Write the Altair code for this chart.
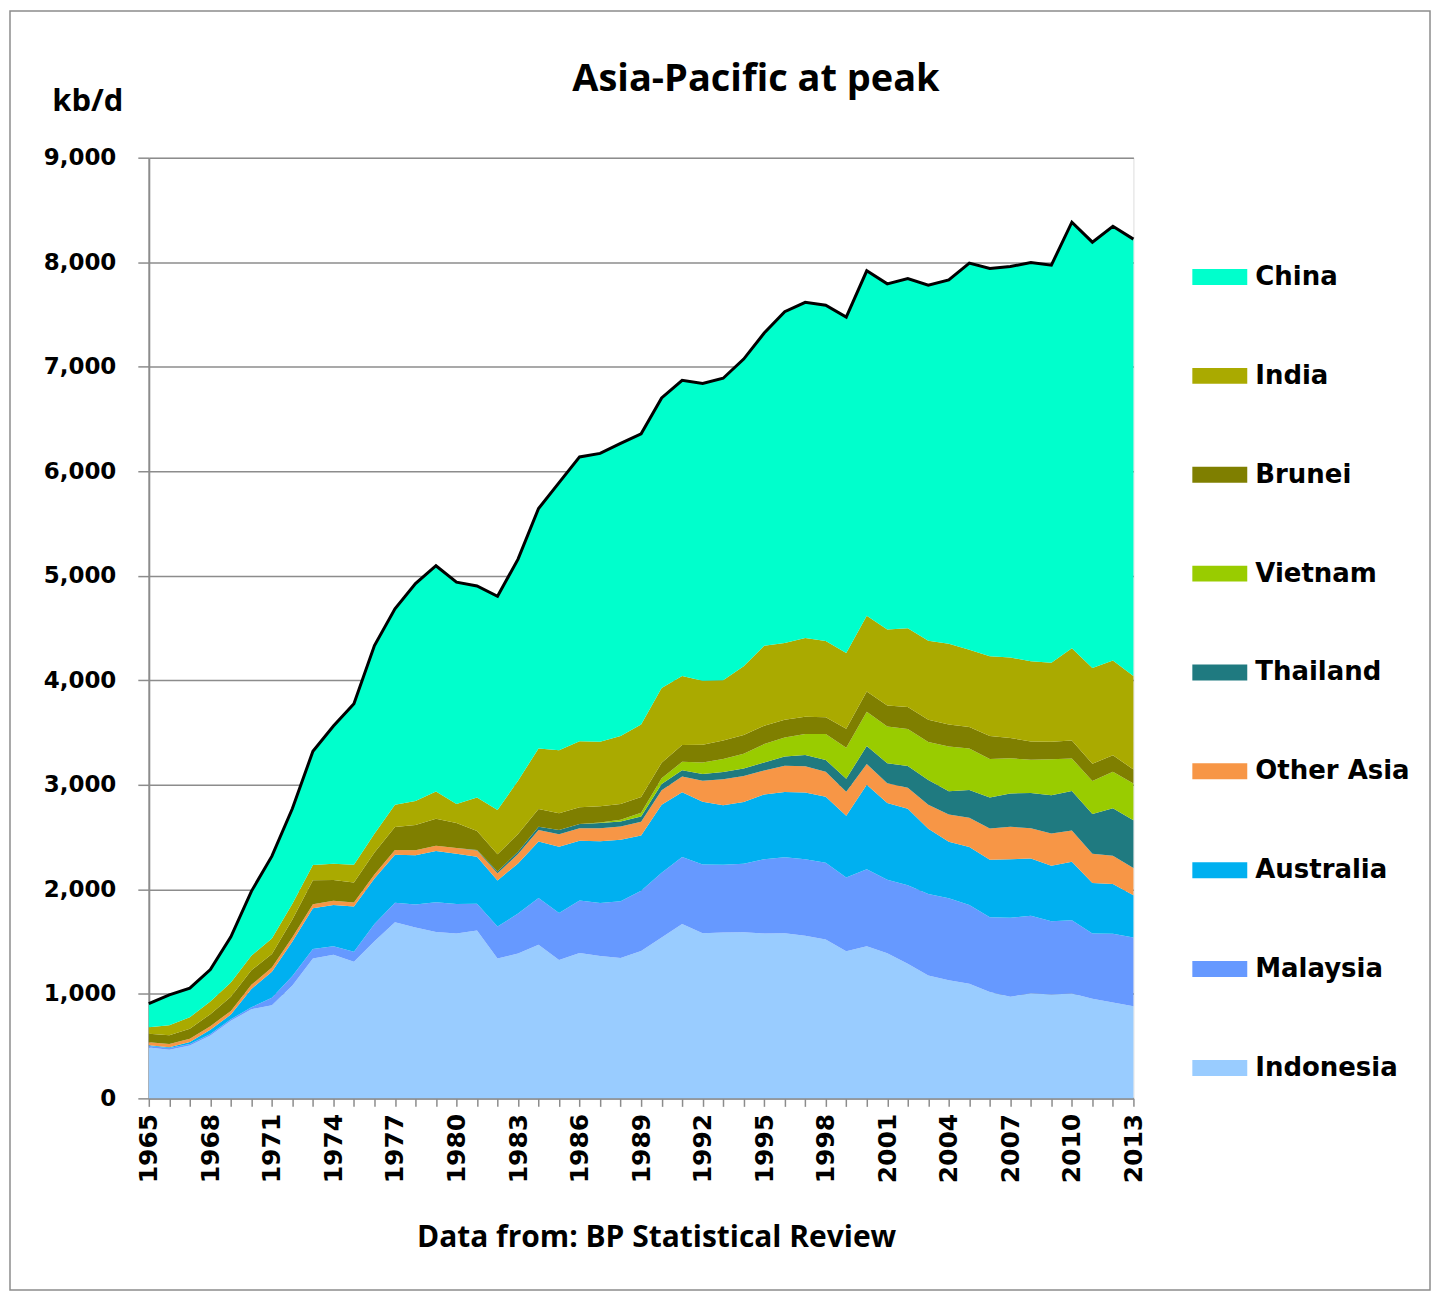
import altair as alt
import pandas as pd

years = list(range(1965, 2014))
label_years = list(range(1965, 2014, 3))

indonesia = [486, 466, 505, 601, 742, 853, 892, 1081, 1338, 1375,
             1306, 1503, 1686, 1635, 1591, 1577, 1605, 1339, 1385, 1470,
             1325, 1390, 1363, 1342, 1409, 1539, 1669, 1579, 1588, 1589,
             1578, 1580, 1557, 1520, 1408, 1456, 1389, 1289, 1176, 1130,
             1096, 1018, 972, 1006, 994, 1003, 952, 918, 882]
malaysia = [15, 15, 15, 15, 15, 18, 70, 90, 90, 80,
            98, 165, 185, 220, 285, 283, 257, 305, 383, 448,
            448, 504, 507, 543, 577, 619, 641, 659, 646, 656,
            711, 727, 730, 735, 705, 735, 703, 751, 779, 784,
            755, 714, 755, 741, 701, 701, 625, 657, 657]
australia = [7, 9, 20, 40, 45, 175, 250, 330, 390, 395,
             431, 435, 460, 470, 490, 480, 450, 440, 480, 540,
             635, 570, 590, 590, 530, 651, 620, 600, 570, 590,
             619, 625, 640, 630, 590, 809, 733, 731, 624, 541,
             554, 550, 561, 547, 530, 560, 484, 476, 404]
other_asia = [30, 30, 30, 35, 35, 40, 40, 40, 40, 40,
              40, 40, 45, 50, 50, 55, 60, 70, 90, 110,
              120, 120, 125, 125, 130, 140, 150, 200, 250, 250,
              230, 250, 250, 240, 230, 200, 190, 200, 230, 260,
              280, 300, 310, 290, 310, 300, 280, 270, 260]
thailand = [0, 0, 0, 0, 0, 0, 0, 0, 0, 0,
            0, 0, 0, 0, 0, 0, 5, 17, 22, 30,
            40, 40, 49, 50, 52, 58, 60, 66, 68, 71,
            76, 90, 109, 113, 125, 171, 192, 210, 236, 224,
            265, 297, 319, 338, 365, 376, 379, 455, 459]
vietnam = [0, 0, 0, 0, 0, 0, 0, 0, 0, 0,
           0, 0, 0, 0, 0, 0, 0, 0, 0, 0,
           0, 1, 5, 16, 35, 55, 80, 110, 126, 140,
           176, 180, 200, 249, 296, 328, 350, 354, 364, 427,
           398, 367, 337, 317, 345, 312, 317, 348, 350]
brunei = [80, 85, 95, 115, 135, 140, 130, 170, 230, 200,
          190, 210, 220, 240, 260, 240, 180, 165, 170, 170,
          160, 160, 155, 150, 150, 150, 160, 170, 175, 180,
          175, 170, 165, 160, 182, 193, 203, 210, 214, 210,
          206, 221, 194, 175, 168, 172, 165, 159, 135]
india = [62, 94, 112, 120, 137, 139, 148, 151, 145, 155,
         170, 179, 213, 229, 260, 182, 321, 423, 509, 580,
         603, 632, 617, 650, 695, 715, 662, 611, 577, 658,
         765, 734, 754, 729, 726, 726, 727, 753, 756, 773,
         738, 762, 769, 768, 754, 882, 916, 906, 894]
china = [227, 291, 278, 306, 436, 616, 787, 911, 1088, 1317,
         1541, 1800, 1875, 2082, 2160, 2122, 2024, 2045, 2120, 2296,
         2560, 2720, 2760, 2800, 2780, 2774, 2828, 2845, 2890, 2939,
         2993, 3170, 3211, 3212, 3213, 3300, 3306, 3346, 3401, 3481,
         3700, 3711, 3742, 3814, 3805, 4077, 4074, 4155, 4180]

legend_order = ["China", "India", "Brunei", "Vietnam", "Thailand",
                "Other Asia", "Australia", "Malaysia", "Indonesia"]
colors = ["#00FFCC", "#AAAA00", "#7F7F00", "#99CC00", "#1F7A80",
          "#F79646", "#00B0F0", "#6699FF", "#99CCFF"]

series = {
    "Indonesia": indonesia, "Malaysia": malaysia, "Australia": australia,
    "Other Asia": other_asia, "Thailand": thailand, "Vietnam": vietnam,
    "Brunei": brunei, "India": india, "China": china,
}
stack_order = ["Indonesia", "Malaysia", "Australia", "Other Asia", "Thailand",
               "Vietnam", "Brunei", "India", "China"]

rows = []
for name in stack_order:
    for yr, v in zip(years, series[name]):
        rows.append({"year": yr, "country": name, "value": v,
                     "stack": stack_order.index(name)})
df = pd.DataFrame(rows)

W, H = 986, 942
FONT_T = "Open Sans"
FONT_L = "DejaVu Sans"
GRAY = "#8c8c8c"

x_scale = alt.Scale(domain=[1965, 2013], nice=False, zero=False)

# axis with year labels every 3 years
x_labels = alt.X(
    "year:Q",
    scale=x_scale,
    axis=alt.Axis(
        orient="bottom",
        values=label_years,
        format="d",
        labelAngle=270,
        labelOverlap=False,
        labelFlush=False,
        labelFont=FONT_L, labelFontSize=25, labelFontWeight="bold",
        labelColor="black", labelPadding=15,
        ticks=False, domain=False, grid=False,
        title="Data from: BP Statistical Review",
        titleFont=FONT_T, titleFontSize=30, titleFontWeight="bold",
        titleColor="black", titleAlign="center",
        titleX=508, titleY=148, titleBaseline="alphabetic",
    ),
)
# axis with a tick for every year
x_ticks = alt.X(
    "year:Q",
    scale=x_scale,
    axis=alt.Axis(
        orient="bottom",
        values=years,
        labels=False,
        tickSize=8, tickColor=GRAY, tickWidth=1.5,
        domainColor=GRAY, domainWidth=2,
        grid=False, title="",
    ),
)

y_enc = alt.Y(
    "value:Q",
    stack="zero",
    scale=alt.Scale(domain=[0, 9000], nice=False),
    axis=alt.Axis(
        values=list(range(0, 9001, 1000)),
        format=",.0f",
        labelFont=FONT_L, labelFontSize=23, labelFontWeight="bold",
        labelColor="black", labelPadding=22,
        tickSize=11, tickColor=GRAY, tickWidth=1.5,
        domainColor=GRAY, domainWidth=2,
        grid=True, gridColor=GRAY, gridWidth=1.5,
        title="kb/d",
        titleFont=FONT_T, titleFontSize=31, titleFontWeight="bold",
        titleColor="black", titleAngle=0, titleAlign="right",
        titleBaseline="alphabetic", titleX=-26, titleY=-47,
    ),
)

areas = alt.Chart(df).mark_area(interpolate="linear", opacity=1).encode(
    x=x_labels,
    y=y_enc,
    color=alt.Color(
        "country:N",
        scale=alt.Scale(domain=legend_order, range=colors),
        title=None,
        legend=alt.Legend(
            orient="none", legendX=1045, legendY=92,
            symbolType="M-1,-0.29L1,-0.29L1,0.29L-1,0.29Z",
            symbolSize=3025, symbolStrokeWidth=0, symbolOpacity=1,
            labelFont=FONT_L, labelFontSize=26, labelFontWeight="bold",
            labelColor="black", labelOffset=8, labelLimit=400,
            rowPadding=58, padding=0,
        ),
    ),
    order=alt.Order("stack:Q", sort="ascending"),
)

total = alt.Chart(df).mark_line(color="black", strokeWidth=3).encode(
    x=x_ticks,
    y=alt.Y("sum(value):Q"),
)

frame = alt.Chart(pd.DataFrame({"a": [0]})).mark_rect(
    filled=False, stroke=GRAY, strokeWidth=1.5
).encode(
    x=alt.value(-139), x2=alt.value(W + 297),
    y=alt.value(-147), y2=alt.value(H + 192),
)

chart = alt.layer(frame, areas, total).resolve_axis(x="independent").properties(
    width=W, height=H,
    autosize=alt.AutoSizeParams(type="none"),
    padding={"left": 141, "top": 149, "right": 300, "bottom": 194},
    title=alt.TitleParams(
        "Asia-Pacific at peak", font=FONT_T, fontSize=38, fontWeight="bold",
        color="black", anchor="middle", frame="group", dx=115, offset=0,
        dy=119, baseline="alphabetic",
    ),
).configure_view(strokeWidth=0).configure(background="white")

chart.save("out.html", embed_options={"renderer": "svg", "actions": False})
